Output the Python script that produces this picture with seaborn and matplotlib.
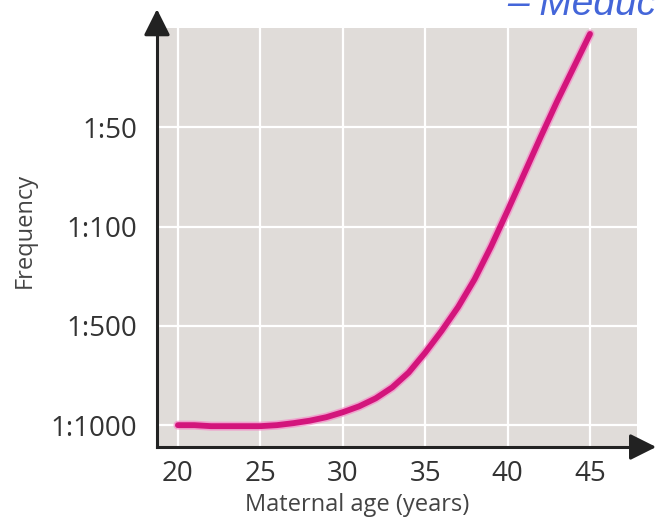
import matplotlib.pyplot as plt
import pandas as pd
import seaborn as sns

# risk curve, y is the position on the category scale
ages = list(range(20, 46))
risk_level = [0.00, 0.00, -0.01, -0.01, -0.01, -0.01, 0.00, 0.02, 0.045, 0.08,
              0.13, 0.19, 0.27, 0.38, 0.53, 0.73, 0.95, 1.19, 1.47, 1.80,
              2.16, 2.53, 2.90, 3.26, 3.60, 3.94]
freq_labels = ['1:1000', '1:500', '1:100', '1:50']
age_ticks = [20, 25, 30, 35, 40, 45]

sns.set_style('whitegrid', {'axes.facecolor': '#e0dcd9', 'grid.color': 'white'})
plt.rcParams['font.family'] = ['Open Sans', 'DejaVu Sans']

fig = plt.figure(figsize=(6.56, 5.27), dpi=100)
ax = fig.add_axes([0.2393, 0.1518, 0.7317, 0.7951])

df = pd.DataFrame({'age': ages, 'level': risk_level})
sns.lineplot(data=df, x='age', y='level', color='#f58cc8', linewidth=6.5,
             alpha=0.7, ax=ax, solid_capstyle='round', solid_joinstyle='round')
sns.lineplot(data=df, x='age', y='level', color='#d3157c', linewidth=4.2,
             ax=ax, solid_capstyle='round', solid_joinstyle='round')

ax.set_xlim(18.73, 47.85)
ax.set_ylim(-0.22, 4.0)
ax.set_xticks(age_ticks)
ax.set_yticks(range(len(freq_labels)), freq_labels)
ax.grid(True, color='white', linewidth=1.6)
ax.tick_params(length=0, labelsize=20, labelcolor='#333333')
ax.tick_params(axis='y', pad=14)
ax.tick_params(axis='x', pad=9)

for side in ['top', 'right']:
    ax.spines[side].set_visible(False)
for side in ['left', 'bottom']:
    ax.spines[side].set_color('#222222')
    ax.spines[side].set_linewidth(2.2)

arrow = dict(arrowstyle='-|>,head_length=0.8,head_width=0.4', color='#222222',
             lw=2.2, shrinkA=0, shrinkB=0, mutation_scale=20)
ax.annotate('', xy=(0, 1.045), xytext=(0, 0.995), xycoords='axes fraction',
            arrowprops=arrow, annotation_clip=False)
ax.annotate('', xy=(1.04, 0), xytext=(0.995, 0), xycoords='axes fraction',
            arrowprops=arrow, annotation_clip=False)

ax.set_xlabel('Maternal age (years)', fontsize=17, color='#444444')
ax.set_ylabel('Frequency', fontsize=17, color='#444444')
ax.xaxis.set_label_coords(0.417, -0.11)
ax.yaxis.set_label_coords(-0.25, 0.518)

fig.text(507 / 656, 1 - 15 / 527, '– Meduc', color='#4466d9', fontsize=28,
         style='italic', family='Liberation Sans', ha='left', va='baseline')

fig.savefig('out.png', dpi=100)
